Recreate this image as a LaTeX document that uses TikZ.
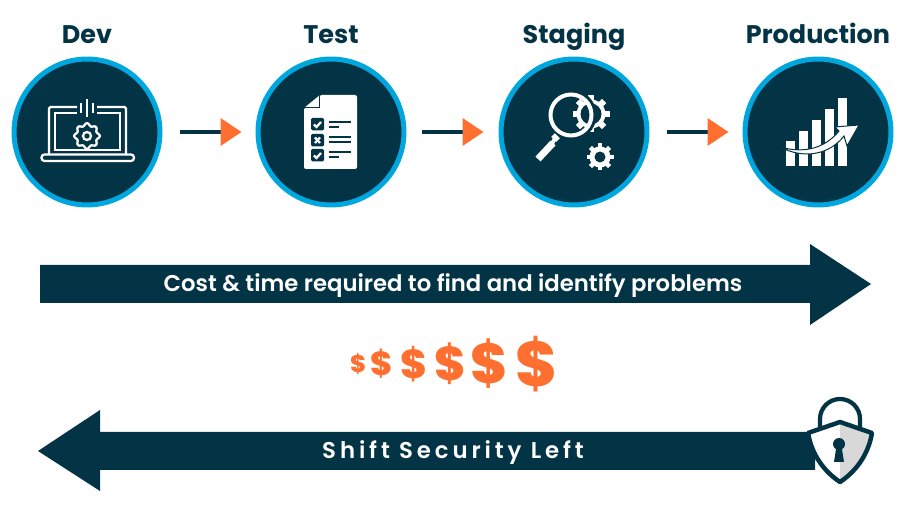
\documentclass[tikz,border=0pt]{standalone}
\usepackage{fontspec}
\setmainfont{Poppins}
\newfontfamily\bandfont{Poppins SemiBold}
\newfontfamily\dollarfont{Poppins ExtraBold}
\usetikzlibrary{arrows.meta}
\definecolor{navy}{HTML}{033445}
\definecolor{ringblue}{HTML}{00A7DF}
\definecolor{flame}{HTML}{FF7030}
\definecolor{lockgrey}{HTML}{D8D8D8}
\tikzset{
    stage/.style={draw=ringblue, fill=navy, circle, line width=0.1cm, minimum size=2.92cm, inner sep=0pt},
    stagelabel/.style={text=navy, font=\bfseries\fontsize{14.5}{16}\selectfont, anchor=base, inner sep=0pt},
    bandtext/.style={text=white, inner sep=0pt, anchor=base},
    flow/.style={draw=navy, line width=0.08cm, -{Triangle[length=0.42cm, width=0.54cm, color=flame]}},
    dollar/.style={text=flame, inner sep=0pt},
    thinline/.style={draw=white, line width=0.045cm},
    barline/.style={draw=navy, line width=0.035cm}
}
% gear: centre x, centre y, outer radius, hole radius
\newcommand{\gearicon}[4]{
    \foreach \a in {0,45,...,315}
        \draw[white, line width=#3*0.0065cm] (#1,#2) ++(\a:#3*0.6) -- ++(\a:#3*0.4);
    \fill[white] (#1,#2) circle (#3*0.78);
    \fill[navy] (#1,#2) circle (#4);
}
\begin{document}
\begin{tikzpicture}[x=0.02cm, y=-0.02cm, >=stealth]
    \useasboundingbox (0,0) rectangle (913,523);

    % Stage circles
    \node[stage] (dev) at (87,132) {};
    \node[stage] (test) at (331,132) {};
    \node[stage] (staging) at (574,132) {};
    \node[stage] (production) at (818,132) {};

    % Stage labels
    \node[stagelabel] (devlabel) at (87,44) {Dev};
    \node[stagelabel] (testlabel) at (331,44) {Test};
    \node[stagelabel] (staginglabel) at (574,44) {Staging};
    \node[stagelabel] (productionlabel) at (818,44) {Production};

    % Arrows between the stages
    \draw[flow, shorten <=0.35cm, shorten >=0.28cm] (dev) -- (test);
    \draw[flow, shorten <=0.32cm, shorten >=0.30cm] (test) -- (staging);
    \draw[flow, shorten <=0.36cm, shorten >=0.28cm] (staging) -- (production);

    % Laptop icon
    \draw[thinline, rounded corners=0.03cm] (77,107) -- (49,107) -- (49,154);
    \draw[thinline, rounded corners=0.03cm] (97,107) -- (126,107) -- (126,154);
    \draw[thinline] (77,113) -- (55,113) -- (55,150) -- (120,150) -- (120,113) -- (97,113);
    \draw[thinline, fill=navy, rounded corners=0.06cm] (41.5,154.5) rectangle (134,161);
    \draw[thinline] (81,103) -- (81,113);
    \draw[thinline] (87,99) -- (87,117);
    \draw[thinline] (93,103) -- (93,113);
    \draw[thinline, fill=navy] plot[domain=0:360, samples=97, smooth] ({87+(11.5+1.3*cos(8*\x))*cos(\x)},{136+(11.5+1.3*cos(8*\x))*sin(\x)}) -- cycle;
    \draw[thinline] (87,136) circle (4);

    % Checklist icon
    \fill[white, rounded corners=0.04cm] (304,108) -- (320,95) -- (357,95) -- (357,169) -- (304,169) -- cycle;
    \draw[navy, line width=0.02cm] (304,108) -- (319,108) -- (319,96);
    \foreach \y/\m in {118/c,134/x,149/c} {
        \fill[navy, rounded corners=0.03cm] (311,\y) rectangle (324,\y+12.5);
    }
    \draw[thinline] (314,124.5) -- (316.5,127) -- (321,122);
    \draw[thinline] (315,137.5) -- (320,143);
    \draw[thinline] (320,137.5) -- (315,143);
    \draw[thinline] (314,155.5) -- (316.5,158) -- (321,153);
    \foreach \y/\e in {122/351,127/339,137/351,142/351,152/351,157/339} {
        \draw[barline] (329,\y) -- (\e,\y);
    }

    % Magnifier and gears icon
    \gearicon{591}{114}{18.5}{10.5}
    \draw[navy, line width=0.1cm] (571,115) circle (23);
    \draw[white, line width=0.08cm] (571,115) circle (20.5);
    \draw[white, line width=0.1cm] (553,135) -- (558,140);
    \draw[white, line width=0.08cm] (555,138) -- (552,144);
    \draw[white, line width=0.14cm] (553,143) -- (538,159);
    \gearicon{600}{157}{13.5}{5.5}

    % Growth chart icon
    \foreach \x/\y in {786/141,799/131,812/120,825/109,838/98} {
        \fill[white] (\x,\y) rectangle (\x+9,166);
    }
    \fill[white, draw=navy, line width=0.02cm] (780,147) .. controls (805,154) and (825,148) .. (839,131) -- (835,127) -- (859,125) -- (847,146) -- (844,136) .. controls (830,154) and (805,160) .. (780,147) -- cycle;

    % Cost arrow
    \fill[navy] (40,265) -- (810,265) -- (810,244) -- (871,284) -- (810,325) -- (810,303) -- (40,303) -- cycle;
    \node[bandtext, font=\bandfont\fontsize{12.95}{14}\selectfont] (costtext) at (453,292) {Cost \& time required to find and identify problems};

    % Growing dollar signs
    \node[dollar, font=\dollarfont\fontsize{13.7}{15}\selectfont] (d1) at (358,364) {\$};
    \node[dollar, font=\dollarfont\fontsize{19}{21}\selectfont] (d2) at (382,364) {\$};
    \node[dollar, font=\dollarfont\fontsize{23}{25}\selectfont] (d3) at (414,364) {\$};
    \node[dollar, font=\dollarfont\fontsize{27}{29}\selectfont] (d4) at (450,364) {\$};
    \node[dollar, font=\dollarfont\fontsize{32}{34}\selectfont] (d5) at (489,364) {\$};
    \node[dollar, font=\dollarfont\fontsize{36}{38}\selectfont] (d6) at (536,364) {\$};

    % Shift left arrow
    \fill[navy] (815,432) -- (100,432) -- (100,410) -- (38,451) -- (100,491) -- (100,470) -- (815,470) -- cycle;
    \node[bandtext, font=\bandfont\fontsize{13}{14}\selectfont\addfontfeature{LetterSpace=17}] (shifttext) at (453,459) {Shift Security Left};

    % Padlock
    \draw[navy, line width=0.085cm] (820,428) -- (820,419) arc[start angle=180, end angle=360, radius=20] -- (860,428);
    \fill[white] (840,422) -- (808,433) .. controls (812,456) and (825,472) .. (840,482) -- cycle;
    \fill[lockgrey] (840,422) -- (872,433) .. controls (868,456) and (855,472) .. (840,482) -- cycle;
    \draw[navy, line width=0.09cm, line join=round] (840,422) -- (872,433) .. controls (868,456) and (855,472) .. (840,482) .. controls (825,472) and (812,456) .. (808,433) -- cycle;
    \fill[navy] (839,444) circle (6);
    \fill[navy] (836.5,446) -- (841.5,446) -- (844,462) -- (834,462) -- cycle;

\end{tikzpicture}
\end{document}
